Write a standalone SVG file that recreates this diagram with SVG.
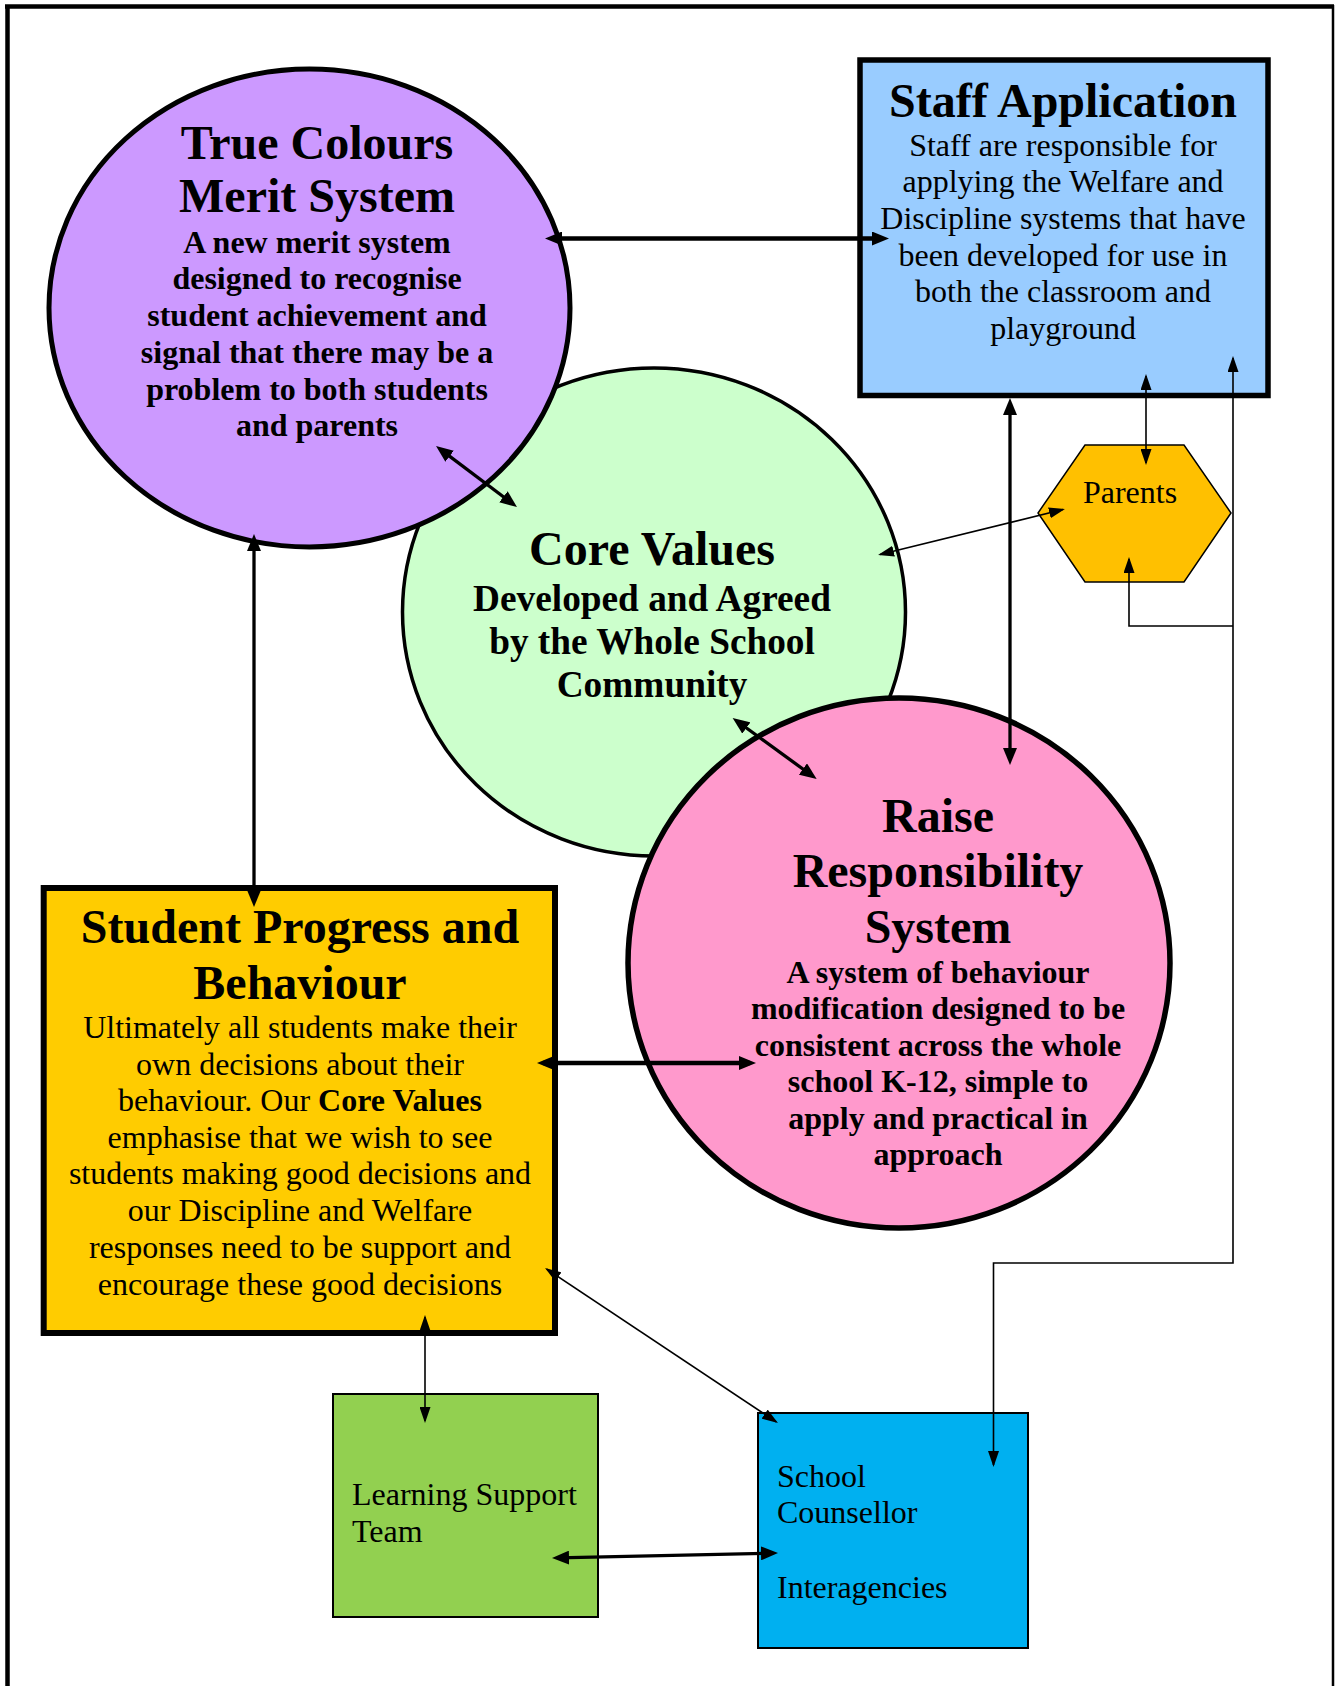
<svg xmlns="http://www.w3.org/2000/svg" width="1336" height="1686" viewBox="0 0 1336 1686">
<style>
text{font-family:"Liberation Serif","Times New Roman",serif;fill:#000}
.t{font-size:48px;font-weight:bold;text-anchor:middle}
.b{font-size:32px;font-weight:bold;text-anchor:middle}
.g{font-size:37.3px;font-weight:bold;text-anchor:middle}
.r{font-size:32px;text-anchor:middle}
.l{font-size:32px}
.sh{stroke:#000}
.ck{fill:none;stroke:#000;stroke-linecap:butt}
.th{stroke-width:4.5;marker-start:url(#ah);marker-end:url(#ah)}
.md{stroke-width:3.3;marker-start:url(#ah);marker-end:url(#ah)}
.tn{stroke-width:1.6;marker-start:url(#as);marker-end:url(#as)}
</style>
<defs>
<marker id="ah" viewBox="0 0 17 14" refX="11" refY="7" markerWidth="17" markerHeight="14" markerUnits="userSpaceOnUse" orient="auto-start-reverse"><path d="M0,0 L17,7 L0,14 z" fill="#000"/></marker>
<marker id="as" viewBox="0 0 16 11" refX="14" refY="5.5" markerWidth="16" markerHeight="11" markerUnits="userSpaceOnUse" orient="auto-start-reverse"><path d="M0,0 L16,5.5 L0,11 z" fill="#000"/></marker>
</defs>
<rect x="0" y="0" width="1336" height="1686" fill="#fff"/>
<g id="frame" stroke="#000">
<line x1="5" y1="6.5" x2="1334" y2="6.5" stroke-width="4.5"/>
<line x1="7.5" y1="5" x2="7.5" y2="1686" stroke-width="4.5"/>
<line x1="1333" y1="5" x2="1333" y2="1686" stroke-width="2.5"/>
</g>
<g id="core-values">
<ellipse cx="654" cy="612" rx="251.5" ry="244" fill="#CCFFCC" class="sh" stroke-width="3.5"/>
<text class="t" x="652" y="565">Core Values</text>
<text class="g" x="652" y="610.5">Developed and Agreed</text>
<text class="g" x="652" y="653.5">by the Whole School</text>
<text class="g" x="652" y="696.5">Community</text>
</g>
<g id="true-colours">
<ellipse cx="309.5" cy="308" rx="260.5" ry="239" fill="#CC99FF" class="sh" stroke-width="5"/>
<text class="t" x="317" y="159">True Colours</text>
<text class="t" x="317" y="212">Merit System</text>
<text class="b" x="317" y="252.5">A new merit system</text>
<text class="b" x="317" y="289">designed to recognise</text>
<text class="b" x="317" y="326">student achievement and</text>
<text class="b" x="317" y="362.5">signal that there may be a</text>
<text class="b" x="317" y="399.5">problem to both students</text>
<text class="b" x="317" y="436">and parents</text>
</g>
<g id="raise-responsibility">
<ellipse cx="899" cy="963" rx="271" ry="265" fill="#FF99CC" class="sh" stroke-width="5.5"/>
<text class="t" x="938" y="831.5">Raise</text>
<text class="t" x="938" y="887">Responsibility</text>
<text class="t" x="938" y="942.5">System</text>
<text class="b" x="938" y="982.5">A system of behaviour</text>
<text class="b" x="938" y="1019">modification designed to be</text>
<text class="b" x="938" y="1055.5">consistent across the whole</text>
<text class="b" x="938" y="1092">school K-12, simple to</text>
<text class="b" x="938" y="1128.5">apply and practical in</text>
<text class="b" x="938" y="1165">approach</text>
</g>
<g id="staff-application">
<rect x="860" y="60" width="408" height="335.5" fill="#99CCFF" class="sh" stroke-width="5.5"/>
<text class="t" x="1063" y="117">Staff Application</text>
<text class="r" x="1063" y="155.5">Staff are responsible for</text>
<text class="r" x="1063" y="192">applying the Welfare and</text>
<text class="r" x="1063" y="228.5">Discipline systems that have</text>
<text class="r" x="1063" y="265.5">been developed for use in</text>
<text class="r" x="1063" y="302">both the classroom and</text>
<text class="r" x="1063" y="339">playground</text>
</g>
<g id="parents">
<polygon points="1085,445 1184,445 1231,513 1184,582 1085,582 1038,513" fill="#FFC000" class="sh" stroke-width="1.5"/>
<text class="r" x="1130" y="503">Parents</text>
</g>
<g id="student-progress">
<rect x="43.7" y="888" width="511.3" height="445" fill="#FFCC00" class="sh" stroke-width="6"/>
<text class="t" x="300" y="943">Student Progress and</text>
<text class="t" x="300" y="998.5">Behaviour</text>
<text class="r" x="300" y="1038">Ultimately all students make their</text>
<text class="r" x="300" y="1074.5">own decisions about their</text>
<text class="r" x="300" y="1111">behaviour. Our <tspan font-weight="bold">Core Values</tspan></text>
<text class="r" x="300" y="1147.5">emphasise that we wish to see</text>
<text class="r" x="300" y="1184">students making good decisions and</text>
<text class="r" x="300" y="1221">our Discipline and Welfare</text>
<text class="r" x="300" y="1258">responses need to be support and</text>
<text class="r" x="300" y="1295">encourage these good decisions</text>
</g>
<g id="learning-support">
<rect x="333" y="1394" width="265" height="223" fill="#92D050" class="sh" stroke-width="2"/>
<text class="l" x="352" y="1505">Learning Support</text>
<text class="l" x="352" y="1541.5">Team</text>
</g>
<g id="school-counsellor">
<rect x="758" y="1413" width="270" height="235" fill="#00B0F0" class="sh" stroke-width="2"/>
<text class="l" x="777" y="1487">School</text>
<text class="l" x="777" y="1523">Counsellor</text>
<text class="l" x="777" y="1598">Interagencies</text>
</g>
<g id="connectors">
<line class="ck th" x1="551" y1="238.5" x2="883" y2="238.5"/>
<line class="ck md" x1="440.8" y1="449.6" x2="512.2" y2="503.4"/>
<line class="ck md" x1="254" y1="540" x2="254" y2="901"/>
<line class="ck md" x1="1010" y1="404" x2="1010" y2="759"/>
<line class="ck tn" x1="1146" y1="376" x2="1146" y2="463"/>
<line class="ck tn" x1="1063" y1="509.5" x2="880" y2="554.5"/>
<path class="ck" stroke-width="1.6" marker-start="url(#as)" marker-end="url(#as)" d="M1233,358 V1263 H993.5 V1465"/>
<path class="ck" stroke-width="1.6" marker-end="url(#as)" d="M1233,626 H1129 V559"/>
<line class="ck th" x1="543" y1="1063" x2="750" y2="1063"/>
<line class="ck md" x1="737.5" y1="721.5" x2="811.8" y2="775.5"/>
<line class="ck tn" x1="425" y1="1317" x2="425" y2="1421"/>
<line class="ck tn" x1="546.7" y1="1269.1" x2="776.3" y2="1421.9"/>
<line class="ck md" x1="558" y1="1557.9" x2="772" y2="1553.1"/>
</g>
</svg>
